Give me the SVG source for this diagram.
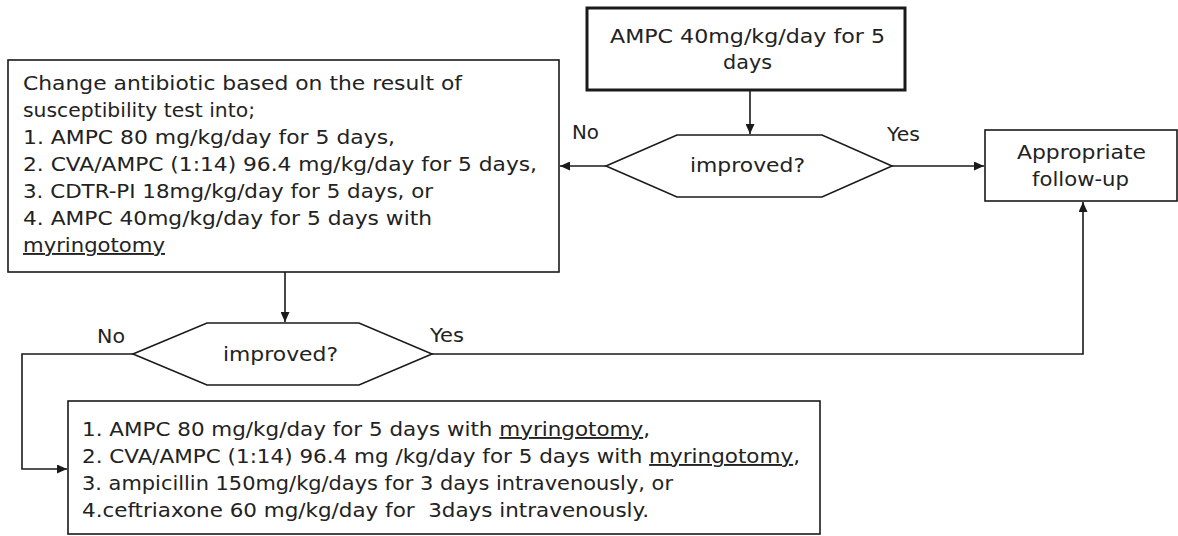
<svg xmlns="http://www.w3.org/2000/svg" width="1178" height="536" viewBox="0 0 1178 536">
  <style>
    .box { fill: #ffffff; stroke: #1a1a1a; stroke-width: 1.6; }
    .thick { stroke-width: 3; }
    .t { font-family: "DejaVu Sans", "Liberation Sans", sans-serif; font-size: 19px; fill: #222222; }
    .u { text-decoration: underline; text-decoration-thickness: 2px; }
    .conn { fill: none; stroke: #1a1a1a; stroke-width: 1.6; }
  </style>
  <defs>
    <marker id="arrow" markerUnits="userSpaceOnUse" markerWidth="10" markerHeight="9" refX="10" refY="4.5" orient="auto">
      <path d="M0,0 L10,4.5 L0,9 z" fill="#1a1a1a"/>
    </marker>
  </defs>
  <rect x="0" y="0" width="1178" height="536" fill="#ffffff"/>

  <g id="connectors">
    <line class="conn" x1="750" y1="90" x2="750" y2="134" marker-end="url(#arrow)"/>
    <line class="conn" x1="606" y1="166" x2="560" y2="166" marker-end="url(#arrow)"/>
    <line class="conn" x1="892" y1="166" x2="984" y2="166" marker-end="url(#arrow)"/>
    <line class="conn" x1="285" y1="272" x2="285" y2="322" marker-end="url(#arrow)"/>
    <polyline class="conn" points="432,354 1083,354 1083,202" marker-end="url(#arrow)"/>
    <polyline class="conn" points="133,354 22,354 22,469 67,469" marker-end="url(#arrow)"/>
    <text class="t" x="572" y="139" textLength="27" lengthAdjust="spacingAndGlyphs">No</text>
    <text class="t" x="887" y="141" textLength="33" lengthAdjust="spacingAndGlyphs">Yes</text>
    <text class="t" x="97" y="343" textLength="28" lengthAdjust="spacingAndGlyphs">No</text>
    <text class="t" x="430" y="342" textLength="34" lengthAdjust="spacingAndGlyphs">Yes</text>
  </g>

  <g id="start">
    <rect class="box thick" x="587" y="8" width="318" height="82"/>
    <text class="t" x="610" y="43" textLength="275" lengthAdjust="spacingAndGlyphs">AMPC 40mg/kg/day for 5</text>
    <text class="t" x="723" y="69" textLength="49" lengthAdjust="spacingAndGlyphs">days</text>
  </g>

  <g id="decision1">
    <polygon class="box" points="606,166 677,135 822,135 892,166 822,197 677,197"/>
    <text class="t" x="690" y="172" textLength="115" lengthAdjust="spacingAndGlyphs">improved?</text>
  </g>

  <g id="followup">
    <rect class="box" x="985" y="130" width="192" height="71"/>
    <text class="t" x="1017" y="159" textLength="129" lengthAdjust="spacingAndGlyphs">Appropriate</text>
    <text class="t" x="1032" y="186" textLength="97" lengthAdjust="spacingAndGlyphs">follow-up</text>
  </g>

  <g id="change-antibiotic">
    <rect class="box" x="8" y="60" width="551" height="212"/>
    <text class="t" x="23" y="90" textLength="439" lengthAdjust="spacingAndGlyphs">Change antibiotic based on the result of</text>
    <text class="t" x="23" y="117" textLength="232" lengthAdjust="spacingAndGlyphs">susceptibility test into;</text>
    <text class="t" x="23" y="144" textLength="372" lengthAdjust="spacingAndGlyphs">1. AMPC 80 mg/kg/day for 5 days,</text>
    <text class="t" x="23" y="171" textLength="514" lengthAdjust="spacingAndGlyphs">2. CVA/AMPC (1:14) 96.4 mg/kg/day for 5 days,</text>
    <text class="t" x="23" y="198" textLength="410" lengthAdjust="spacingAndGlyphs">3. CDTR-PI 18mg/kg/day for 5 days, or</text>
    <text class="t" x="23" y="225" textLength="409" lengthAdjust="spacingAndGlyphs">4. AMPC 40mg/kg/day for 5 days with</text>
    <text class="t u" x="23" y="252" textLength="142" lengthAdjust="spacingAndGlyphs">myringotomy</text>
  </g>

  <g id="decision2">
    <polygon class="box" points="133,354 207,323 359,323 432,354 359,385 207,385"/>
    <text class="t" x="223" y="361" textLength="115" lengthAdjust="spacingAndGlyphs">improved?</text>
  </g>

  <g id="second-line">
    <rect class="box" x="68" y="401" width="752" height="133"/>
    <text class="t" x="82" y="436" textLength="568" lengthAdjust="spacingAndGlyphs">1. AMPC 80 mg/kg/day for 5 days with <tspan class="u">myringotomy</tspan>,</text>
    <text class="t" x="82" y="463" textLength="718" lengthAdjust="spacingAndGlyphs">2. CVA/AMPC (1:14) 96.4 mg /kg/day for 5 days with <tspan class="u">myringotomy</tspan>,</text>
    <text class="t" x="82" y="490" textLength="591" lengthAdjust="spacingAndGlyphs">3. ampicillin 150mg/kg/days for 3 days intravenously, or</text>
    <text class="t" x="82" y="517" textLength="567" lengthAdjust="spacingAndGlyphs" xml:space="preserve" style="white-space:pre">4.ceftriaxone 60 mg/kg/day for  3days intravenously.</text>
  </g>
</svg>
